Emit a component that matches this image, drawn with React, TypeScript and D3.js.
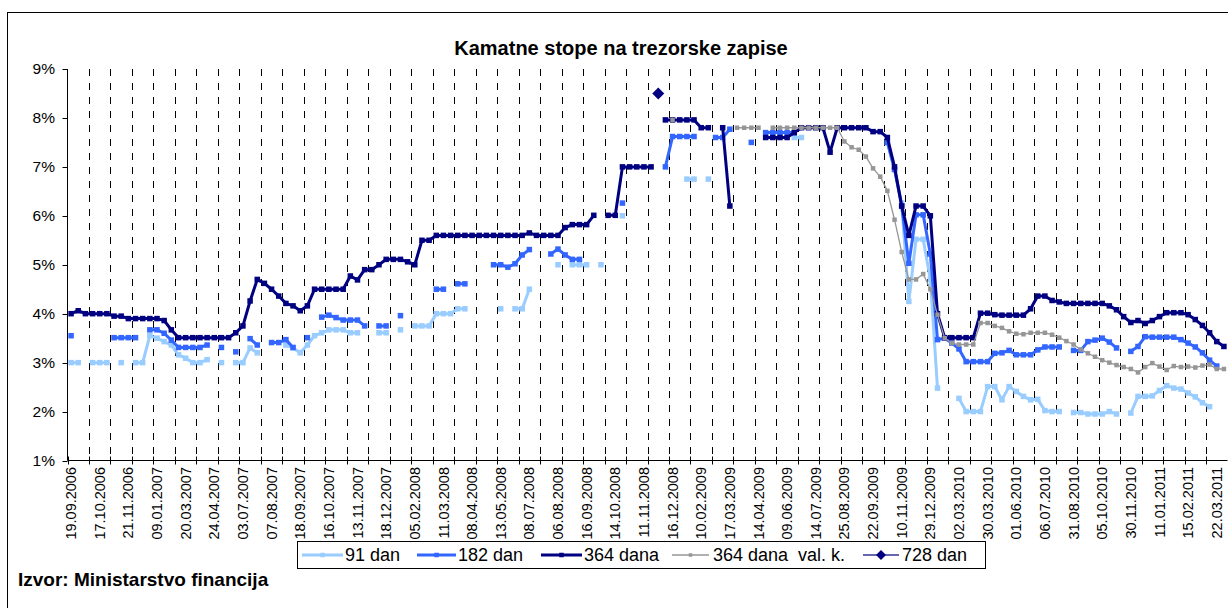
import * as d3 from 'd3';

const _ = null;

// one label every 4th auction date
const dateLabels = [
  '19.09.2006', '17.10.2006', '21.11.2006', '09.01.2007', '20.03.2007', '24.04.2007',
  '03.07.2007', '07.08.2007', '18.09.2007', '16.10.2007', '13.11.2007', '18.12.2007',
  '05.02.2008', '11.03.2008', '08.04.2008', '13.05.2008', '08.07.2008', '06.08.2008',
  '16.09.2008', '14.10.2008', '11.11.2008', '16.12.2008', '10.02.2009', '17.03.2009',
  '14.04.2009', '09.06.2009', '14.07.2009', '25.08.2009', '22.09.2009', '10.11.2009',
  '29.12.2009', '02.03.2010', '30.03.2010', '01.06.2010', '06.07.2010', '31.08.2010',
  '05.10.2010', '30.11.2010', '11.01.2011', '15.02.2011', '22.03.2011',
];

const yTicks = [1, 2, 3, 4, 5, 6, 7, 8, 9];

// 91 dan
const s91 = [
  3.0, 3.0, _, 3.0, 3.0, 3.0, _, 3.0, _, 3.0,
  3.0, 3.55, 3.5, 3.43, 3.36, 3.16, 3.09, 3.0, 3.0, 3.06,
  _, 3.0, _, 3.0, 3.0, 3.3, 3.2, _, _, _,
  3.36, 3.3, 3.2, 3.36, 3.55, 3.61, 3.67, 3.67, 3.67, 3.61,
  3.61, _, _, 3.61, 3.61, _, 3.67, _, 3.75, 3.75,
  3.75, 4.0, 4.0, 4.0, 4.1, 4.1, _, _, _, _,
  4.1, _, 4.1, 4.1, 4.5, _, _, _, 5.0, _,
  5.0, 5.0, 5.0, _, 5.0, _, _, 6.0, _, _,
  _, _, _, _, _, _, 6.75, 6.75, _, 6.75,
  _, _, _, _, _, _, _, _, _, _,
  _, 7.6, 7.6, _, _, _, _, _, _, _,
  _, _, _, _, 7.5, 6.94, 6.26, 4.25, 5.52, 5.52,
  4.7, 2.48, _, _, 2.27, 2.0, 2.0, 2.0, 2.51, 2.51,
  2.24, 2.51, 2.41, 2.31, 2.24, 2.25, 2.02, 2.0, 2.0, _,
  1.98, 1.98, 1.95, 1.95, 1.95, 2.0, 1.95, _, 1.97, 2.31,
  2.31, 2.32, 2.43, 2.53, 2.48, 2.46, 2.38, 2.3, 2.18, 2.1,
  _, _,
];

// 182 dan
const s182 = [
  3.55, _, _, _, _, _, 3.51, 3.51, 3.51, 3.51,
  _, 3.67, 3.67, 3.6, 3.46, 3.31, 3.31, 3.31, 3.31, 3.36,
  _, 3.31, _, 3.22, _, 3.49, 3.36, _, 3.41, 3.41,
  3.47, 3.31, _, 3.51, _, 3.93, 3.97, 3.92, 3.87, 3.87,
  3.87, 3.75, _, 3.75, 3.75, _, 3.96, _, _, _,
  _, 4.5, 4.5, _, 4.61, 4.61, _, _, _, 5.0,
  5.0, 4.95, 5.02, 5.2, 5.31, _, _, 5.22, 5.32, 5.2,
  5.11, 5.11, _, _, _, _, _, 6.26, _, _,
  _, _, _, 7.0, 7.62, 7.62, 7.62, 7.62, _, _,
  7.6, 7.6, 7.77, _, _, 7.5, _, 7.7, 7.7, 7.7,
  7.7, 7.7, _, _, _, _, _, _, _, _,
  _, _, _, _, 7.5, 6.95, 6.2, 5.03, 6.02, 6.02,
  5.22, 3.47, 3.5, 3.4, 3.28, 3.02, 3.02, 3.02, 3.02, 3.19,
  3.2, 3.25, 3.16, 3.16, 3.16, 3.26, 3.32, 3.32, 3.32, _,
  3.25, 3.25, 3.43, 3.46, 3.5, 3.42, 3.3, _, 3.23, 3.33,
  3.53, 3.52, 3.52, 3.52, 3.52, 3.47, 3.4, 3.32, 3.2, 3.05,
  2.93, _,
];

// 364 dana
const s364 = [
  4.0, 4.06, 4.0, 4.0, 4.0, 4.0, 3.95, 3.95, 3.9, 3.9,
  3.9, 3.9, 3.9, 3.86, 3.67, 3.51, 3.51, 3.51, 3.51, 3.51,
  3.51, 3.51, 3.51, 3.61, 3.75, 4.26, 4.7, 4.62, 4.5, 4.36,
  4.21, 4.16, 4.06, 4.16, 4.5, 4.5, 4.5, 4.5, 4.5, 4.77,
  4.69, 4.9, 4.9, 5.0, 5.11, 5.11, 5.11, 5.06, 5.0, 5.5,
  5.5, 5.6, 5.6, 5.6, 5.6, 5.6, 5.6, 5.6, 5.6, 5.6,
  5.6, 5.6, 5.6, 5.6, 5.65, 5.6, 5.6, 5.6, 5.6, 5.76,
  5.82, 5.82, 5.82, 6.01, _, 6.01, 6.01, 7.0, 7.0, 7.0,
  7.0, 7.0, _, 7.96, 7.96, 7.96, 7.96, 7.96, 7.8, 7.8,
  _, 7.8, 6.2, _, _, _, _, 7.6, 7.6, 7.6,
  7.6, 7.7, 7.8, 7.8, 7.8, 7.8, 7.3, 7.8, 7.8, 7.8,
  7.8, 7.8, 7.72, 7.72, 7.6, 7.0, 6.2, 5.6, 6.2, 6.2,
  6.0, 4.0, 3.51, 3.51, 3.51, 3.51, 3.51, 4.01, 4.01, 3.98,
  3.97, 3.97, 3.97, 3.97, 4.1, 4.36, 4.36, 4.27, 4.24, 4.21,
  4.21, 4.21, 4.21, 4.21, 4.21, 4.16, 4.08, 3.94, 3.82, 3.86,
  3.8, 3.86, 3.94, 4.02, 4.02, 4.02, 3.98, 3.88, 3.76, 3.61,
  3.43, 3.33,
];

// 364 dana val. k.
const s364vk = [
  _, _, _, _, _, _, _, _, _, _,
  _, _, _, _, _, _, _, _, _, _,
  _, _, _, _, _, _, _, _, _, _,
  _, _, _, _, _, _, _, _, _, _,
  _, _, _, _, _, _, _, _, _, _,
  _, _, _, _, _, _, _, _, _, _,
  _, _, _, _, _, _, _, _, _, _,
  _, _, _, _, _, _, _, _, _, _,
  _, _, _, _, 7.96, _, _, _, _, _,
  _, _, _, 7.8, 7.8, 7.8, 7.8, _, 7.8, 7.8,
  7.8, 7.8, 7.8, 7.8, 7.8, 7.8, 7.8, 7.8, 7.52, 7.4,
  7.35, 7.21, 6.97, 6.8, 6.51, 5.92, 5.26, 4.7, 4.7, 4.81,
  4.5, 3.98, 3.5, 3.4, 3.37, 3.37, 3.37, 3.81, 3.81, 3.75,
  3.71, 3.64, 3.59, 3.58, 3.61, 3.61, 3.61, 3.57, 3.51, 3.44,
  3.37, 3.27, 3.19, 3.12, 3.05, 3.0, 2.95, 2.91, 2.87, 2.8,
  2.91, 2.99, 2.92, 2.85, 2.93, 2.91, 2.92, 2.9, 2.94, 2.96,
  2.87, 2.87,
];

// 728 dan
const s728 = [
  _, _, _, _, _, _, _, _, _, _,
  _, _, _, _, _, _, _, _, _, _,
  _, _, _, _, _, _, _, _, _, _,
  _, _, _, _, _, _, _, _, _, _,
  _, _, _, _, _, _, _, _, _, _,
  _, _, _, _, _, _, _, _, _, _,
  _, _, _, _, _, _, _, _, _, _,
  _, _, _, _, _, _, _, _, _, _,
  _, _, 8.5, _, _, _, _, _, _, _,
  _, _, _, _, _, _, _, _, _, _,
  _, _, _, _, _, _, _, _, _, _,
  _, _, _, _, _, _, _, _, _, _,
  _, _, _, _, _, _, _, _, _, _,
  _, _, _, _, _, _, _, _, _, _,
  _, _, _, _, _, _, _, _, _, _,
  _, _, _, _, _, _, _, _, _, _,
  _, _,
];

type Val = number | null;

interface Series {
  name: string;
  data: Val[];
  color: string;
  lineColor: string;
  width: number;
  marker: 'square' | 'diamond';
  size: number;
}

const series: Series[] = [
  { name: '91 dan', data: s91, color: '#99CCFF', lineColor: '#99CCFF', width: 3, marker: 'square', size: 5.5 },
  { name: '182 dan', data: s182, color: '#3366FF', lineColor: '#3366FF', width: 3, marker: 'square', size: 5.5 },
  { name: '364 dana', data: s364, color: '#000080', lineColor: '#000080', width: 3, marker: 'square', size: 5.5 },
  { name: '364 dana  val. k.', data: s364vk, color: '#969696', lineColor: '#969696', width: 1.3, marker: 'square', size: 4.5 },
  { name: '728 dan', data: s728, color: '#000080', lineColor: '#333399', width: 1.5, marker: 'diamond', size: 6 },
];

// legend item positions (sample line start/end, text start)
const legendItems = [
  { x1: 302, x2: 343, tx: 345 },
  { x1: 417, x2: 456, tx: 458 },
  { x1: 541, x2: 582, tx: 584 },
  { x1: 672, x2: 709, tx: 713 },
  { x1: 863, x2: 899, tx: 902 },
];

const W = 1228;
const H = 608;
const M = { left: 67.5, right: 1227.5, top: 69, bottom: 460.5 };
const FONT = "'Liberation Sans', Arial, Helvetica, sans-serif";

function Marker({ kind, x, y, size, fill }: { kind: string; x: number; y: number; size: number; fill: string }) {
  if (kind === 'diamond') {
    return <path d={`M${x},${y - size}L${x + size},${y}L${x},${y + size}L${x - size},${y}Z`} fill={fill} />;
  }
  return <rect x={x - size / 2} y={y - size / 2} width={size} height={size} fill={fill} />;
}

export default function App() {
  const cats = s364.map((_d, i) => i);
  const x = d3.scaleBand<number>().domain(cats).range([M.left, M.right]);
  const bw = x.bandwidth();
  const cx = (i: number) => (x(i) as number) + bw / 2;
  const y = d3.scaleLinear().domain([1, 9]).range([M.bottom, M.top]);

  const line = d3.line<Val>()
    .defined((d) => d != null)
    .x((_d, i) => cx(i))
    .y((d) => y(d as number));

  const gridCats = cats.filter((i) => i > 0 && i % 3 === 0);
  const tickCats = cats.filter((i) => i % 3 === 0);

  return (
    <svg width={W} height={H} style={{ position: 'absolute', left: 0, top: 0, background: '#fff' }} fontFamily={FONT}>
      <rect x={0} y={0} width={W} height={H} fill="#fff" />
      <rect x={7.5} y={12.5} width={W + 20} height={H + 20} fill="none" stroke="#000" strokeWidth={1} />

      <text x={621} y={55} textAnchor="middle" fontSize={20} fontWeight="bold" fill="#000">
        Kamatne stope na trezorske zapise
      </text>

      {/* vertical dashed gridlines */}
      {gridCats.map((i) => (
        <line key={`g${i}`} x1={Math.round(x(i) as number) + 0.5} x2={Math.round(x(i) as number) + 0.5}
          y1={M.top} y2={M.bottom} stroke="#000" strokeWidth={1} strokeDasharray="7,7" />
      ))}

      {/* y axis */}
      <line x1={M.left} x2={M.left} y1={M.top} y2={M.bottom} stroke="#000" strokeWidth={1} />
      {yTicks.map((t) => (
        <g key={`y${t}`}>
          <line x1={M.left - 5} x2={M.left} y1={Math.round(y(t)) + 0.5} y2={Math.round(y(t)) + 0.5} stroke="#000" />
          <text x={55} y={y(t)} dy="0.35em" textAnchor="end" fontSize={15.5} fill="#000">{`${t}%`}</text>
        </g>
      ))}

      {/* x axis */}
      <line x1={M.left} x2={M.right} y1={M.bottom} y2={M.bottom} stroke="#000" strokeWidth={1} />
      {tickCats.map((i) => (
        <line key={`t${i}`} x1={Math.round(x(i) as number) + 0.5} x2={Math.round(x(i) as number) + 0.5}
          y1={M.bottom - 4} y2={M.bottom + 4} stroke="#000" />
      ))}
      {dateLabels.map((lab, k) => (
        <text key={lab} transform={`translate(${cx(k * 4)},467) rotate(-90)`} dy="0.35em"
          textAnchor="end" fontSize={14.5} fill="#000">{lab}</text>
      ))}

      {/* series */}
      {series.map((s) => (
        <g key={s.name}>
          {s.marker === 'square' && (
            <path d={line(s.data) || ''} fill="none" stroke={s.lineColor} strokeWidth={s.width} strokeLinejoin="round" />
          )}
          {s.data.map((d, i) => d == null ? null : (
            <Marker key={i} kind={s.marker} x={cx(i)} y={y(d)} size={s.size} fill={s.color} />
          ))}
        </g>
      ))}

      {/* legend */}
      <rect x={297.5} y={541.5} width={688} height={27} fill="#fff" stroke="#000" strokeWidth={1} />
      {series.map((s, k) => {
        const it = legendItems[k];
        const ly = 555;
        return (
          <g key={`l${k}`}>
            <line x1={it.x1} x2={it.x2} y1={ly} y2={ly} stroke={s.lineColor} strokeWidth={s.width} />
            <Marker kind={s.marker} x={(it.x1 + it.x2) / 2} y={ly} size={s.marker === 'diamond' ? 5 : s.size - 1} fill={s.color} />
            <text x={it.tx} y={ly} dy="0.36em" fontSize={18} fill="#000" style={{ whiteSpace: 'pre' }}>{s.name}</text>
          </g>
        );
      })}

      <text x={18} y={586} fontSize={19} fontWeight="bold" fill="#000">Izvor: Ministarstvo financija</text>
    </svg>
  );
}
